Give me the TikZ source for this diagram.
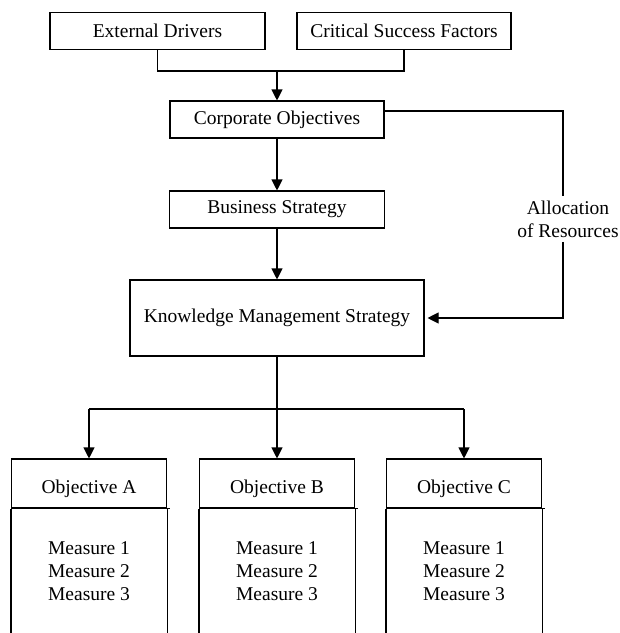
\documentclass[tikz,border=0pt]{standalone}
\usepackage{fontspec}
\setmainfont{Liberation Serif}
\usetikzlibrary{arrows.meta}
\begin{document}
\begin{tikzpicture}[x=1pt,y=-1pt,line width=1.1pt,
    box/.style={draw,rectangle,inner sep=0pt,minimum height=37pt,
      font=\fontsize{19.5}{23}\selectfont},
    lbl/.style={inner sep=0pt,align=center,font=\fontsize{19.5}{23}\selectfont},
    arr/.style={-{Triangle[length=11pt,width=11pt]}}]
    \useasboundingbox (0,0) rectangle (620,633);

    % top of the chain
    \node[box,minimum width=215pt] (ext) at (157.5,31) {External Drivers};
    \node[box,minimum width=214pt] (csf) at (404,31) {Critical Success Factors};
    \node[box,minimum width=214pt] (corp) at (277,119.5) {Corporate Objectives};
    \node[box,minimum width=215pt] (bus) at (277,209.5) {Business Strategy};
    \node[box,minimum width=294pt,minimum height=76pt] (kms) at (277,318) {Knowledge Management Strategy};
    \node[lbl,inner sep=4pt] (alloc) at (568,219) {Allocation\\of Resources};

    \coordinate (merge) at (277,71);
    \draw (ext.south) -- (ext.south |- merge) -- (csf.south |- merge) -- (csf.south);
    \draw[arr] (merge) -- (corp.north);
    \draw[arr] (corp.south) -- (bus.north);
    \draw[arr] (bus.south) -- (kms.north);

    \coordinate (bend) at (563,111);
    \draw (corp.east |- bend) -- (bend) -- (bend |- alloc.north);
    \draw[arr,shorten >=3pt] (bend |- alloc.south) -- (bend |- kms.east) -- (kms.east);

    % objectives
    \foreach \n/\x in {A/89,B/277,C/464}
    {
      \node[box,minimum width=155pt,minimum height=49pt,text height=24pt,text depth=4pt] (obj\n) at (\x,483.5) {Objective \n};
      \node[lbl] (mea\n) at (\x,571) {Measure 1\\Measure 2\\Measure 3};
      \draw (obj\n.south west) -- ++(0,126);
      \draw (obj\n.south east) -- ++(0,126);
      \draw (obj\n.south east) -- ++(3,0);
    }

    \coordinate (split) at (277,409);
    \draw (kms.south) -- (split);
    \draw (objA.north |- split) -- (objC.north |- split);
    \foreach \n in {A,B,C}
      \draw[arr] (obj\n.north |- split) -- (obj\n.north);
\end{tikzpicture}
\end{document}
